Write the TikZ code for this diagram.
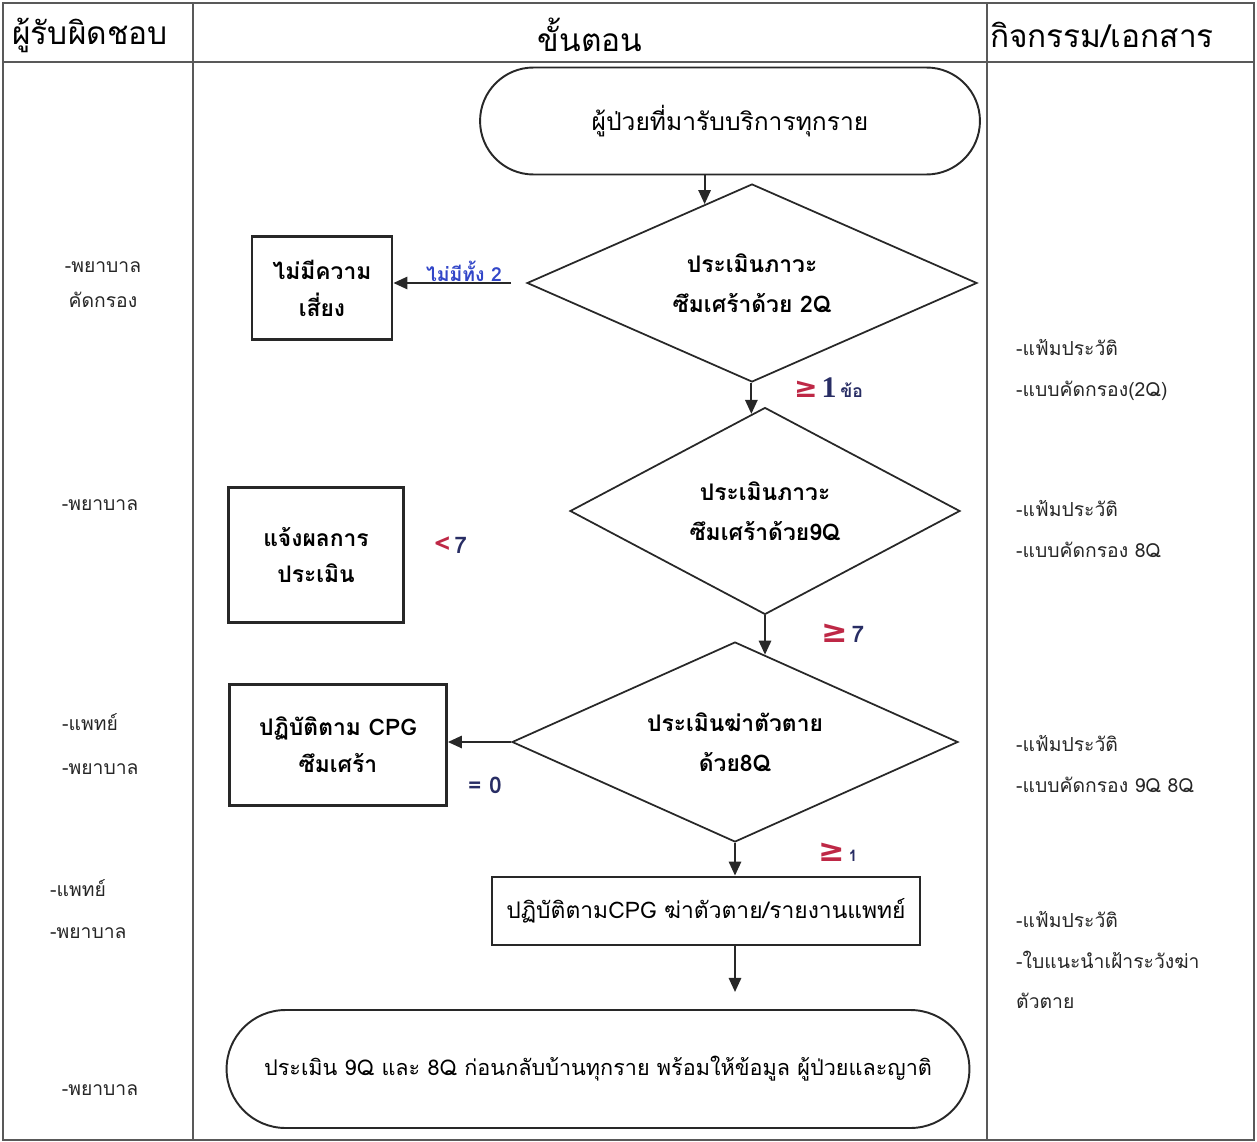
\documentclass[tikz,border=0pt]{standalone}
\usepackage{fontspec}
\setmainfont[Script=Thai]{Loma}
\newfontfamily\symf{DejaVu Sans}
\newfontfamily\serf{Liberation Serif}
\usetikzlibrary{shapes.geometric,arrows.meta}
\definecolor{geRed}{RGB}{190,40,70}
\definecolor{navy}{RGB}{40,45,100}
\definecolor{linkblue}{RGB}{50,70,200}
\definecolor{lineg}{RGB}{40,40,40}
\begin{document}
\begin{tikzpicture}[x=0.02cm,y=-0.02cm,
  tab/.style={draw=black!65, line width=1.2pt},
  hdr/.style={font=\fontsize{18}{22}\selectfont},
  who/.style={font=\fontsize{11}{20}\selectfont, align=center, text=black!85},
  doc/.style={font=\fontsize{11}{23}\selectfont, align=left, anchor=west, text=black!85},
  boxb/.style={draw=lineg, line width=1.6pt, align=center, font=\bfseries\fontsize{13}{21}\selectfont},
  dia/.style={diamond, draw=lineg, line width=1pt, shape aspect=2.3, inner sep=0pt, align=center, font=\bfseries\fontsize{13}{23}\selectfont},
  term/.style={draw=lineg, line width=1.1pt, align=center},
  arr/.style={-{Triangle[length=8pt,width=7pt]}, line width=1.2pt, draw=lineg},
  lab/.style={font=\bfseries\fontsize{13}{15}\selectfont}
]
\useasboundingbox (0,0) rectangle (1257,1142);
% table
\draw[tab] (3,3) rectangle (1254,1140);
\draw[tab] (3,62) -- (1254,62);
\draw[tab] (193,3) -- (193,1140);
\draw[tab] (987,3) -- (987,1140);
\node[hdr] (h1) at (90,35) {ผู้รับผิดชอบ};
\node[hdr] (h2) at (590,35) {ขั้นตอน};
\node[hdr] (h3) at (1102,35) {กิจกรรม/เอกสาร};

% flow
\node[term, rounded corners=1.07cm, minimum width=10cm, minimum height=2.14cm, font=\fontsize{14}{16}\selectfont] (start) at (730,121) {ผู้ป่วยที่มารับบริการทุกราย};
\node[dia, minimum width=9cm, minimum height=3.96cm] (d1) at (752,283) {ประเมินภาวะ\\ซึมเศร้าด้วย 2Q};
\node[dia, minimum width=7.8cm, minimum height=4.14cm] (d2) at (765,511) {ประเมินภาวะ\\ซึมเศร้าด้วย9Q};
\node[dia, minimum width=8.92cm, minimum height=4.0cm] (d3) at (735,742) {ประเมินฆ่าตัวตาย\\ด้วย8Q};
\node[boxb, minimum width=2.8cm, minimum height=2.06cm] (b1) at (322,288) {ไม่มีความ\\เสี่ยง};
\node[boxb, minimum width=3.5cm, minimum height=2.7cm] (b2) at (316,555) {แจ้งผลการ\\ประเมิน};
\node[boxb, minimum width=4.34cm, minimum height=2.42cm] (b3) at (338,745) {ปฏิบัติตาม CPG\\ซึมเศร้า};
\node[boxb, font=\fontsize{13}{15}\selectfont, minimum width=8.56cm, minimum height=1.36cm] (b4) at (706,911) {ปฏิบัติตามCPG ฆ่าตัวตาย/รายงานแพทย์};
\node[term, rounded corners=1.18cm, minimum width=14.86cm, minimum height=2.36cm, font=\fontsize{12.3}{14}\selectfont] (end) at (598,1069) {ประเมิน 9Q และ 8Q ก่อนกลับบ้านทุกราย พร้อมให้ข้อมูล ผู้ป่วยและญาติ};
\coordinate (endin) at (735,992);

% connectors
\draw[arr] (start.south -| d1.121) -- (d1.121);
\draw[arr] (d1.south -| d2.98) -- (d2.98);
\draw[arr] (d2.south) -- (d2.south |- d3.71);
\draw[arr] (d3.south) -- (d3.south |- b4.north);
\draw[arr] (d3.south |- b4.south) -- (endin);
\draw[arr] ([xshift=-0.3cm]d1.west) -- (d1.west -| b1.east)
  node[pos=0.4, anchor=base, inner sep=0pt, yshift=1pt, text=linkblue, font=\bfseries\fontsize{11}{12}\selectfont] (lk) {ไม่มีทั้ง 2};
\draw[arr] (d3.west) -- (d3.west -| b3.east);

% condition labels
\node[lab, anchor=west] (c1) at (788,388) {{\symf\fontsize{16}{18}\selectfont\color{geRed}≥}\,{\serf\fontsize{17}{18}\selectfont\color{navy}1}\,{\color{navy}\fontsize{10}{10}\selectfont ข้อ}};
\node[lab, anchor=west] (c2) at (428,545) {{\fontsize{16}{18}\selectfont\color{geRed}<}\,{\color{navy}7}};
\node[lab, anchor=west] (c3) at (815,633) {{\symf\fontsize{18}{20}\selectfont\color{geRed}≥}\,{\color{navy}7}};
\node[lab, anchor=west] (c4) at (462,785) {{\color{navy}= 0}};
\node[lab, anchor=west] (c5) at (812,852) {{\symf\fontsize{18}{20}\selectfont\color{geRed}≥}\,{\color{navy}\fontsize{9}{10}\selectfont 1}};

% responsible
\node[who] (w1) at (103,285) {-พยาบาล\\คัดกรอง};
\node[who] (w2) at (100,505) {-พยาบาล};
\node[who, align=left, anchor=west, font=\fontsize{11}{25}\selectfont] (w3) at (56,744) {-แพทย์\\-พยาบาล};
\node[who, align=left, anchor=west, font=\fontsize{11}{24}\selectfont] (w4) at (44,909) {-แพทย์\\-พยาบาล};
\node[who] (w5) at (100,1090) {-พยาบาล};

% documents
\node[doc] (r1) at (1010,370) {-แฟ้มประวัติ\\-แบบคัดกรอง(2Q)};
\node[doc] (r2) at (1010,529) {-แฟ้มประวัติ\\-แบบคัดกรอง 8Q};
\node[doc] (r3) at (1010,764) {-แฟ้มประวัติ\\-แบบคัดกรอง 9Q 8Q};
\node[doc] (r4) at (1010,960) {-แฟ้มประวัติ\\-ใบแนะนำเฝ้าระวังฆ่า\\ตัวตาย};
\end{tikzpicture}
\end{document}
